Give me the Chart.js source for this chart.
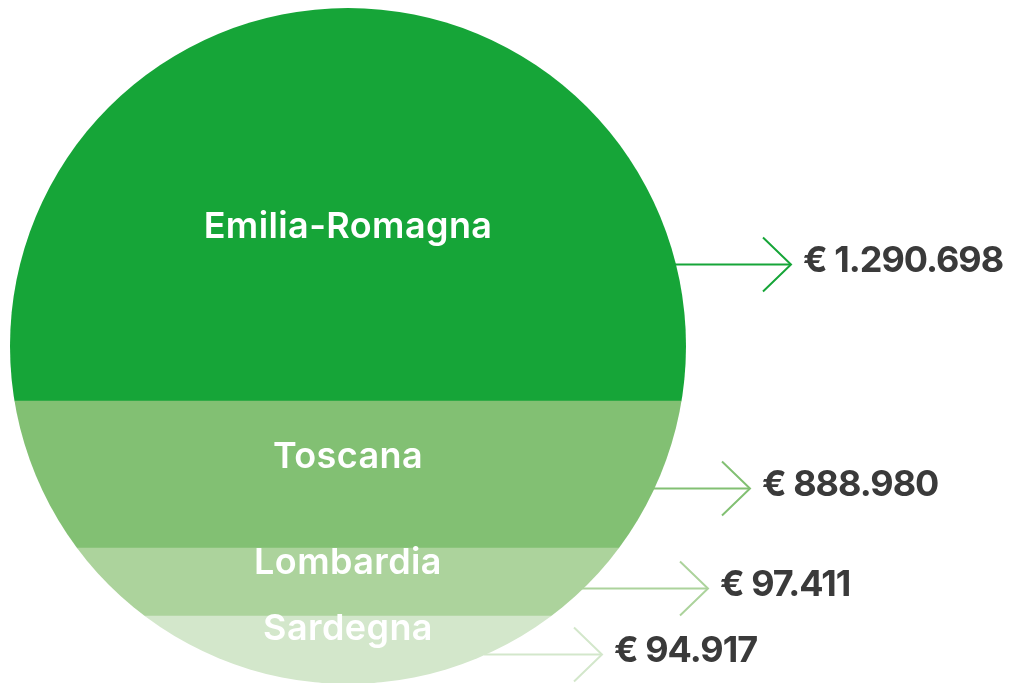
<!DOCTYPE html>
<html>
<head>
<meta charset="utf-8">
<script src="https://cdn.jsdelivr.net/npm/chart.js@4"></script>
<style>
  html, body { margin: 0; padding: 0; background: #ffffff; }
  #wrap { width: 1013px; height: 683px; }
</style>
</head>
<body>
<div id="wrap"><canvas id="c" width="1013" height="683"></canvas></div>
<script>
// Regions, top to bottom
const regions = ['Emilia-Romagna', 'Toscana', 'Lombardia', 'Sardegna'];
// Amounts shown next to each band (euro)
const amounts = [1290698, 888980, 97411, 94917];
// Relative band thickness as drawn in the reference circle
const bandWeights = [393, 147, 68, 67];
// Band colours
const bandColors = ['#16a538', '#82c073', '#acd39c', '#d3e7cb'];

function fmtEuro(v) {
  return '€ ' + v.toString().replace(/\B(?=(\d{3})+(?!\d))/g, '.');
}

const totalWeight = bandWeights.reduce((a, b) => a + b, 0);

// datasets stack bottom-up, so reverse order
const datasets = regions.map((r, i) => ({
  label: r,
  data: [bandWeights[i]],
  backgroundColor: bandColors[i],
  borderWidth: 0,
  barPercentage: 1,
  categoryPercentage: 1
})).reverse();

const circlePlugin = {
  id: 'circleBands',
  beforeDatasetsDraw(chart) {
    const a = chart.chartArea;
    const r = (a.right - a.left) / 2;
    const cx = a.left + r, cy = a.top + r;
    const ctx = chart.ctx;
    ctx.save();
    ctx.beginPath();
    ctx.arc(cx, cy, r, 0, Math.PI * 2);
    ctx.clip();
  },
  afterDatasetsDraw(chart, args, opts) {
    const ctx = chart.ctx;
    ctx.restore();
    const a = chart.chartArea;
    const r = (a.right - a.left) / 2;
    const cx = a.left + r, cy = a.top + r;
    const n = regions.length;
    regions.forEach((name, i) => {
      const dsIndex = n - 1 - i;
      const el = chart.getDatasetMeta(dsIndex).data[0];
      const top = Math.min(el.y, el.base), bot = Math.max(el.y, el.base);
      const h = bot - top;
      // band label
      ctx.save();
      ctx.fillStyle = '#ffffff';
      ctx.font = '600 36px Inter, "Open Sans", sans-serif';
      ctx.textAlign = 'center';
      ctx.textBaseline = 'alphabetic';
      try { ctx.letterSpacing = '0.4px'; } catch (e) {}
      ctx.fillText(name, cx, top + h * opts.labelPos[i]);
      ctx.restore();
      // arrow
      const ay = Math.round(top + h * opts.arrowPos[i]) + 0.5;
      const dy = ay - cy;
      const startX = cx + Math.sqrt(Math.max(0, r * r - dy * dy));
      const tipX = opts.tipX[i];
      ctx.save();
      ctx.strokeStyle = bandColors[i];
      ctx.lineWidth = 2;
      ctx.beginPath();
      ctx.moveTo(startX - 2, ay);
      ctx.lineTo(tipX, ay);
      ctx.stroke();
      ctx.beginPath();
      ctx.moveTo(tipX - 28, ay - 27);
      ctx.lineTo(tipX, ay);
      ctx.lineTo(tipX - 28, ay + 27);
      ctx.stroke();
      ctx.restore();
      // value
      ctx.save();
      ctx.fillStyle = '#3a3a3a';
      ctx.font = '700 36px Inter, "Open Sans", sans-serif';
      ctx.textAlign = 'left';
      ctx.textBaseline = 'alphabetic';
      try { ctx.letterSpacing = '-1px'; } catch (e) {}
      ctx.fillText(fmtEuro(amounts[i]), tipX + 12, ay + 7);
      ctx.restore();
    });
  }
};

new Chart(document.getElementById('c'), {
  type: 'bar',
  data: { labels: [''], datasets },
  options: {
    responsive: false,
    animation: false,
    layout: { padding: { left: 10, right: 327, top: 8, bottom: 0 } },
    scales: {
      x: { stacked: true, display: false },
      y: { stacked: true, display: false, min: 0, max: totalWeight }
    },
    plugins: {
      legend: { display: false },
      tooltip: { enabled: false },
      circleBands: {
        labelPos: [0.585, 0.456, 0.38, 0.36],
        arrowPos: [0.651, 0.592, 0.588, 0.567],
        tipX: [791, 750, 708, 602]
      }
    }
  },
  plugins: [circlePlugin]
});
</script>
</body>
</html>
